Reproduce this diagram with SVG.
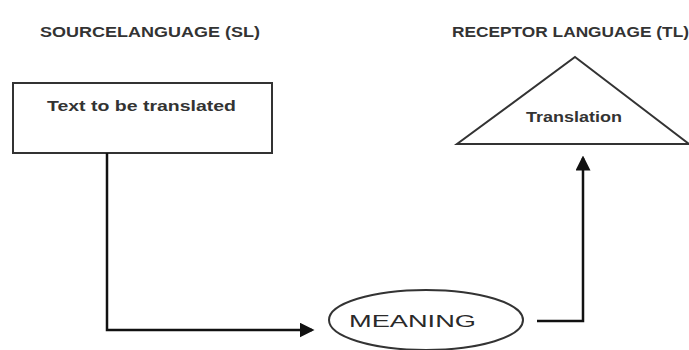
<svg xmlns="http://www.w3.org/2000/svg" width="689" height="350" viewBox="0 0 689 350">
<style>
text{font-family:"Liberation Sans",Arial,sans-serif;fill:#2a2a2a}
.t{font-size:14px;font-weight:bold;fill:#333}
.n{font-size:15px;font-weight:bold;fill:#333}
.shape{fill:#fff;stroke:#333;stroke-width:2}
.c{fill:none;stroke:#111;stroke-width:2.5}
</style>
<defs>
<marker id="ah" markerWidth="6" markerHeight="6" refX="5" refY="3" orient="auto" markerUnits="strokeWidth">
<path d="M0,0 L6,3 L0,6 z" fill="#111"/>
</marker>
</defs>
<rect width="689" height="350" fill="#fff"/>
<text class="t" x="40" y="37" textLength="220" lengthAdjust="spacingAndGlyphs">SOURCELANGUAGE (SL)</text>
<text class="t" x="452" y="37" textLength="237" lengthAdjust="spacingAndGlyphs">RECEPTOR LANGUAGE (TL)</text>
<g id="source">
<rect class="shape" x="13" y="83" width="259" height="70"/>
<text class="n" x="47" y="111" textLength="189" lengthAdjust="spacingAndGlyphs">Text to be translated</text>
</g>
<g id="meaning">
<ellipse class="shape" cx="426" cy="320" rx="97" ry="30"/>
<text x="349" y="327" font-size="17" fill="#333" textLength="127" lengthAdjust="spacingAndGlyphs">MEANING</text>
</g>
<g id="translation">
<polygon class="shape" points="575,57 689,144 457,144"/>
<text class="n" x="526" y="122" textLength="96" lengthAdjust="spacingAndGlyphs">Translation</text>
</g>
<g id="connectors">
<path class="c" d="M107,153 V330 H312" marker-end="url(#ah)"/>
<path class="c" d="M537,321 H583 V158" marker-end="url(#ah)"/>
</g>
</svg>
